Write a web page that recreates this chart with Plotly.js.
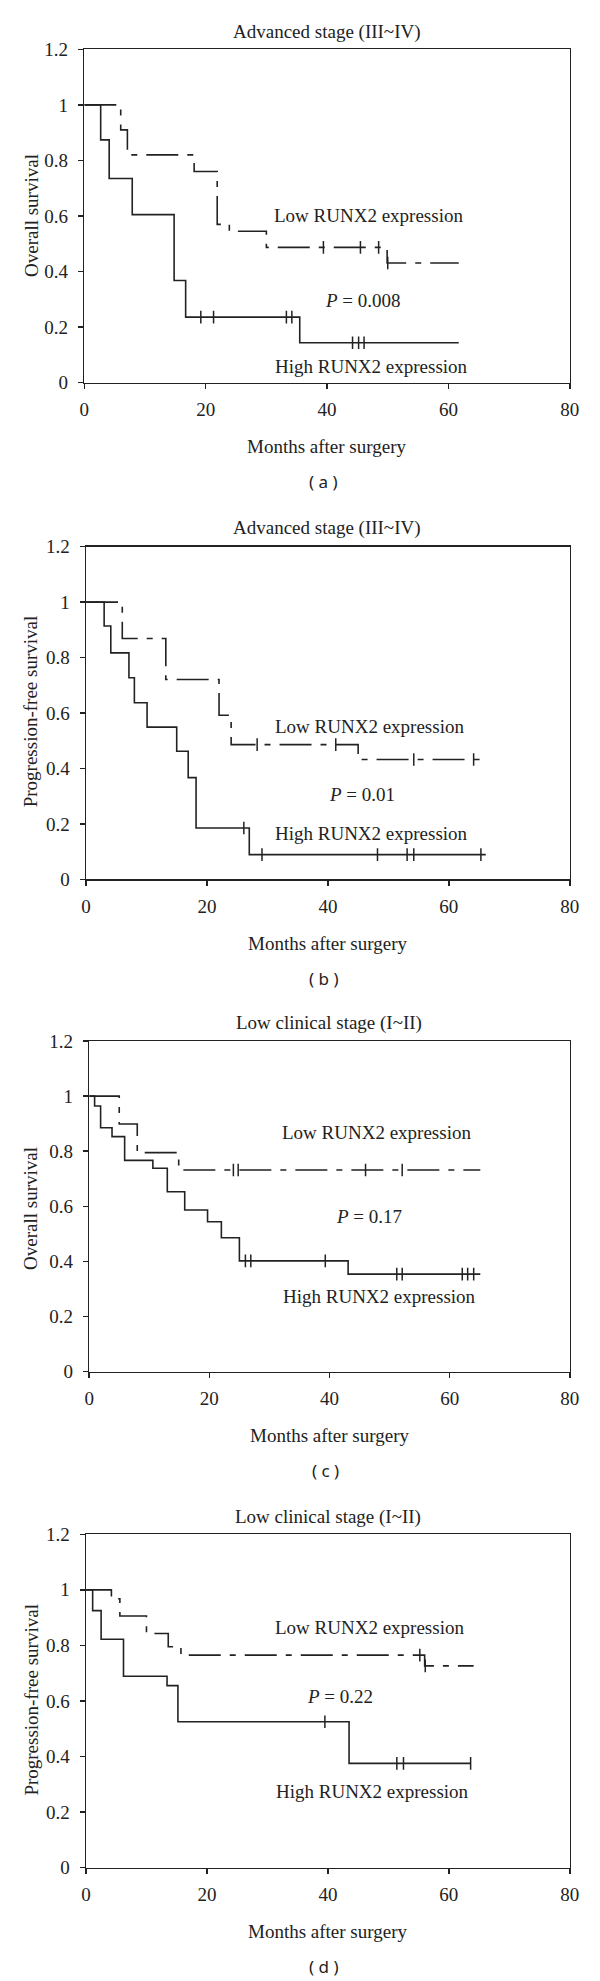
<!DOCTYPE html>
<html>
<head>
<meta charset="utf-8">
<script src="https://cdn.plot.ly/plotly-3.0.1.min.js"></script>
<style>
html,body{margin:0;padding:0;background:#fff;}
#chart{width:600px;height:1981px;}
</style>
</head>
<body>
<div id="chart"></div>
<script>
// ---------- Data (months after surgery, survival proportion) ----------
// Panel (a): Advanced stage, overall survival
const aLowT  = [0, 6.0, 7.1, 18.1, 21.9, 23.9, 30.0, 49.9, 61.7];
const aLowS  = [1, 0.91, 0.82, 0.76, 0.57, 0.545, 0.487, 0.431, 0.431];
const aLowCens  = [39.4, 45.5, 48.5, 50.0];
const aHighT = [0, 2.7, 4.1, 7.9, 14.8, 16.7, 35.5, 61.7];
const aHighS = [1, 0.874, 0.735, 0.605, 0.368, 0.236, 0.144, 0.144];
const aHighCens = [19.2, 21.3, 33.3, 34.2, 44.2, 45.2, 46.1];

// Panel (b): Advanced stage, progression-free survival
const bLowT  = [0, 6.0, 13.2, 22.0, 24.0, 45.0, 65.8];
const bLowS  = [1, 0.869, 0.721, 0.592, 0.486, 0.432, 0.432];
const bLowCens  = [28.3, 41.3, 54.2, 64.1];
const bHighT = [0, 3.0, 4.1, 7.1, 8.0, 10.1, 15.0, 16.9, 18.2, 27.0, 66.1];
const bHighS = [1, 0.914, 0.817, 0.727, 0.637, 0.549, 0.462, 0.367, 0.185, 0.089, 0.089];
const bHighCens = [26.1, 29.1, 48.2, 53.1, 54.2, 65.3];

// Panel (c): Low clinical stage, overall survival
const cLowT  = [0, 5.0, 8.0, 14.9, 65.1];
const cLowS  = [1, 0.899, 0.795, 0.732, 0.732];
const cLowCens  = [24.0, 24.8, 46.0, 52.1];
const cHighT = [0, 0.9, 1.9, 3.8, 5.9, 10.6, 13.0, 15.9, 19.7, 22.0, 25.0, 43.1, 65.1];
const cHighS = [1, 0.964, 0.885, 0.853, 0.767, 0.738, 0.653, 0.587, 0.544, 0.486, 0.402, 0.354, 0.354];
const cHighCens = [26.0, 26.9, 39.3, 51.2, 52.1, 62.1, 63.0, 64.0];

// Panel (d): Low clinical stage, progression-free survival
const dLowT  = [0, 4.2, 5.6, 10.0, 13.6, 15.7, 56.0, 64.1];
const dLowS  = [1, 0.968, 0.906, 0.843, 0.795, 0.765, 0.726, 0.726];
const dLowCens  = [55.2, 56.1];
const dHighT = [0, 1.1, 2.5, 6.2, 13.4, 15.2, 43.5, 63.6];
const dHighS = [1, 0.925, 0.822, 0.689, 0.655, 0.525, 0.375, 0.375];
const dHighCens = [39.5, 51.4, 52.5, 63.6];

// Text
const panelTitles = ["Advanced stage (III~IV)", "Advanced stage (III~IV)", "Low clinical stage (I~II)", "Low clinical stage (I~II)"];
const yTitles = ["Overall survival", "Progression-free survival", "Overall survival", "Progression-free survival"];
const xTitle = "Months after surgery";
const pValues = ["0.008", "0.01", "0.17", "0.22"];
const panelLetters = ["a", "b", "c", "d"];
const lowLabel = "Low RUNX2 expression";
const highLabel = "High RUNX2 expression";
const xTickVals = [0, 20, 40, 60, 80];
const yTickVals = [0, 0.2, 0.4, 0.6, 0.8, 1, 1.2];
const yTickText = ["0", "0.2", "0.4", "0.6", "0.8", "1", "1.2"];

// ---------- Layout geometry (pixels) ----------
const W = 600, H = 1981;
const INK = "#222";
const SERIF = "Liberation Serif, Times New Roman, serif";
const geo = [
  {xl: 84.3, xr: 569.8, yTop: 49.3,  yBot: 382.7,
   title: [327, 31.7], ytitle: [32, 216], low: [368, 216], p: [363, 300], high: [371, 366.7]},
  {xl: 86,   xr: 569.8, yTop: 546.7, yBot: 879.3,
   title: [327.4, 528.3], ytitle: [30.6, 711.7], low: [369, 726], p: [362, 795], high: [371.8, 833.3]},
  {xl: 89.2, xr: 569.8, yTop: 1041,  yBot: 1371.7,
   title: [329, 1023.3], ytitle: [30.6, 1208.3], low: [376.3, 1132.7], p: [369.4, 1216.7], high: [379.4, 1296.7]},
  {xl: 86,   xr: 569.8, yTop: 1534.3, yBot: 1867.5,
   title: [327.8, 1517.3], ytitle: [30.6, 1700], low: [369, 1627.7], p: [340, 1696], high: [372.5, 1791.7]}
];

function stepAt(T, S, x) {
  let v = S[0];
  for (let i = 0; i < T.length; i++) if (T[i] <= x) v = S[i];
  return v;
}

const series = [
  [aLowT, aLowS, aLowCens, aHighT, aHighS, aHighCens],
  [bLowT, bLowS, bLowCens, bHighT, bHighS, bHighCens],
  [cLowT, cLowS, cLowCens, cHighT, cHighS, cHighCens],
  [dLowT, dLowS, dLowCens, dHighT, dHighS, dHighCens]
];

const traces = [];
const layout = {
  width: W, height: H,
  margin: {l: 0, r: 0, t: 0, b: 0},
  paper_bgcolor: "#fff", plot_bgcolor: "#fff",
  showlegend: false,
  annotations: []
};

function px(x) { return x / W; }
function py(y) { return 1 - y / H; }
function ann(text, x, y, opts) {
  return Object.assign({
    text: text, xref: "paper", yref: "paper", x: px(x), y: py(y),
    xanchor: "center", yanchor: "middle", showarrow: false,
    font: {family: SERIF, size: 19, color: INK}
  }, opts || {});
}

series.forEach((s, k) => {
  const g = geo[k];
  const n = k === 0 ? "" : String(k + 1);
  const xa = "x" + n, ya = "y" + n;
  const [lT, lS, lC, hT, hS, hC] = s;

  traces.push({x: lT, y: lS, xaxis: xa, yaxis: ya, mode: "lines", type: "scatter",
    line: {shape: "hv", color: INK, width: 1.6, dash: "32px,9px,6px,9px"}, hoverinfo: "skip"});
  traces.push({x: hT, y: hS, xaxis: xa, yaxis: ya, mode: "lines", type: "scatter",
    line: {shape: "hv", color: INK, width: 1.6}, hoverinfo: "skip"});
  traces.push({x: lC, y: lC.map(t => stepAt(lT, lS, t)), xaxis: xa, yaxis: ya, mode: "markers", type: "scatter",
    marker: {symbol: "line-ns-open", size: 9, color: INK, line: {color: INK, width: 1.5}}, hoverinfo: "skip"});
  traces.push({x: hC, y: hC.map(t => stepAt(hT, hS, t)), xaxis: xa, yaxis: ya, mode: "markers", type: "scatter",
    marker: {symbol: "line-ns-open", size: 9, color: INK, line: {color: INK, width: 1.5}}, hoverinfo: "skip"});

  layout["xaxis" + n] = {
    domain: [px(g.xl), px(g.xr)], anchor: ya, range: [0, 80],
    tickmode: "array", tickvals: xTickVals, ticks: "outside", ticklen: 5, tickwidth: 1.5, tickcolor: INK,
    showline: true, mirror: true, linecolor: INK, linewidth: 1.5,
    showgrid: false, zeroline: false, fixedrange: true,
    tickfont: {family: SERIF, size: 19, color: INK}, ticklabelstandoff: 4
  };
  layout["yaxis" + n] = {
    domain: [py(g.yBot), py(g.yTop)], anchor: xa, range: [0, 1.2],
    tickmode: "array", tickvals: yTickVals, ticktext: yTickText, ticks: "outside", ticklen: 5, tickwidth: 1.5, tickcolor: INK,
    showline: true, mirror: true, linecolor: INK, linewidth: 1.5,
    showgrid: false, zeroline: false, fixedrange: true,
    tickfont: {family: SERIF, size: 19, color: INK}, ticklabelstandoff: 6
  };

  layout.annotations.push(ann(panelTitles[k], g.title[0], g.title[1]));
  layout.annotations.push(ann(yTitles[k], g.ytitle[0], g.ytitle[1], {textangle: -90}));
  layout.annotations.push(ann(lowLabel, g.low[0], g.low[1]));
  layout.annotations.push(ann("<i>P</i> = " + pValues[k], g.p[0], g.p[1]));
  layout.annotations.push(ann(highLabel, g.high[0], g.high[1]));
  layout.annotations.push(ann(xTitle, (g.xl + g.xr) / 2, g.yBot + 64));
  layout.annotations.push(ann("( " + panelLetters[k] + " )", (g.xl + g.xr) / 2 - 4, g.yBot + 99,
    {font: {family: "Noto Sans, DejaVu Sans, sans-serif", size: 17, color: INK}}));
});

Plotly.newPlot("chart", traces, layout, {displayModeBar: false, staticPlot: true});
</script>
</body>
</html>
